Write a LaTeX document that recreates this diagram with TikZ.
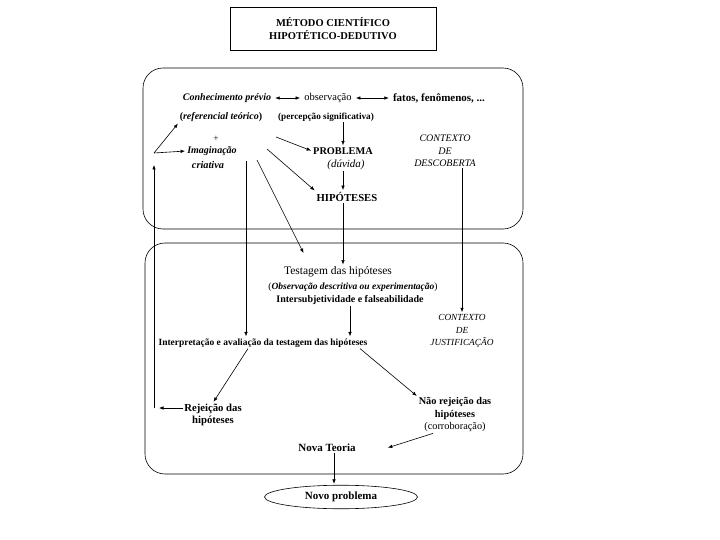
\documentclass[tikz,border=0pt]{standalone}
\usepackage{fontspec}
\setmainfont{Liberation Serif}
\usetikzlibrary{arrows.meta,shapes.geometric}
\newcommand{\fsz}[1]{\fontsize{#1}{12.5}\selectfont}

\begin{document}
\begin{tikzpicture}[x=1pt,y=-1pt,>={Latex[length=4.5pt,width=3.5pt]},
  font=\fsz{9.5},
  lbl/.style={inner sep=1pt,align=center},
  conn/.style={->,line width=0.6pt,shorten >=1pt},
  frame/.style={line width=0.6pt,rounded corners=20pt}]
\useasboundingbox (0,0) rectangle (720,540);
% title
\node[draw,line width=0.6pt,minimum width=206pt,minimum height=43pt,align=center,
  font=\fontsize{10.5}{13}\selectfont\bfseries] (titulo) at (333,28.5)
  {MÉTODO CIENTÍFICO\\HIPOTÉTICO-DEDUTIVO};
% the two contexts
\draw[frame] (143,68) rectangle (523,229);
\draw[frame] (145,243) rectangle (523,474);
% upper part
\node[lbl,font=\fsz{10}\bfseries\itshape] (conh) at (227,98) {Conhecimento prévio};
\node[lbl,font=\fsz{10.5}] (obs) at (328,98) {observação};
\node[lbl,font=\fsz{11}\bfseries] (fatos) at (439,98) {fatos, fenômenos, ...};
\node[lbl,font=\bfseries] (refer) at (221,117) {(\textit{referencial teórico})};
\node[lbl,font=\fsz{9.2}\bfseries] (perc) at (326,117) {(percepção significativa)};
\node[lbl] (plus) at (216,139) {+};
\node[lbl,font=\bfseries\itshape] (imag) at (212,151) {Imaginação};
\node[lbl,font=\fsz{10.3}\bfseries\itshape] (criat) at (208,165) {criativa};
\node[lbl,font=\fsz{10.3}\bfseries] (prob) at (343,151) {PROBLEMA};
\node[lbl,font=\fsz{11}\itshape] (duv) at (346,165) {(dúvida)};
\node[lbl,font=\fsz{10}\itshape] (descob) at (445,151) {CONTEXTO\\DE\\DESCOBERTA};
\node[lbl,font=\fsz{10.7}\bfseries] (hip) at (347,197) {HIPÓTESES};
% lower part
\node[lbl,font=\fsz{11.5}] (testag) at (338,272) {Testagem das hipóteses};
\node[lbl] (obsdesc) at (353,287) {(\textbf{\textit{Observação descritiva ou experimentação}})};
\node[lbl,font=\fsz{10}\bfseries] (inters) at (350,300) {Intersubjetividade e falseabilidade};
\node[lbl,font=\fsz{9.3}\itshape] (justif) at (462,331) {CONTEXTO\\DE\\JUSTIFICAÇÃO};
\node[lbl,font=\fsz{9.5}\bfseries] (interp) at (263,343) {Interpretação e avaliação da testagem das hipóteses};
\node[lbl,font=\fsz{10.7}\bfseries] (rejei) at (213,415) {Rejeição das\\hipóteses};
\node[lbl,font=\fsz{10.3}] (naorej) at (455,415) {\textbf{Não rejeição das}\\\textbf{hipóteses}\\(corroboração)};
\node[lbl,font=\fsz{11}\bfseries] (nova) at (327,448) {Nova Teoria};
\node[draw,ellipse,line width=0.6pt,minimum width=153pt,minimum height=22pt,font=\fsz{11}\bfseries]
  (novoprob) at (341,497) {Novo problema};
% helper points
\coordinate (canto) at (154,153);
\coordinate (volta) at (154,408);
\coordinate (i1) at (276,137);
\coordinate (i2) at (267,149);
\coordinate (i3) at (257,160);
\coordinate (i4) at (246,161);
\coordinate (t1) at (304,254);
% connectors
\draw[conn,<->,shorten <=3pt,shorten >=3pt] (conh) -- (obs);
\draw[conn,<->,shorten <=3pt,shorten >=3pt] (obs) -- (fatos);
\draw[conn] (prob.north |- perc.south) -- (prob.north);
\draw[conn] (canto) -- (refer.south west);
\draw[conn] (canto) -- (imag.west);
\draw[conn] (i1) -- (prob.west);
\draw[conn] (i2) -- (hip.north west);
\draw[conn] (i3) -- (t1);
\draw[conn] (i4) -- (i4 |- interp.north);
\draw[conn] (prob.south |- duv.south) -- (prob.south |- hip.north);
\draw[conn] (prob.south |- hip.south) -- (prob.south |- testag.north);
\draw[conn] (justif.north |- descob.south) -- (justif.north);
\draw[conn] (inters.south) -- (inters.south |- interp.north);
\draw[conn] ([xshift=-15pt]interp.south) -- (rejei.north);
\draw[conn] ([xshift=97pt]interp.south) -- (naorej.north west);
\draw[conn,shorten >=5pt] (rejei.west |- volta) -- (volta);
\draw[conn,shorten >=12pt] (volta) -- (canto);
\draw[conn] ([xshift=-22pt]naorej.south) -- ([xshift=30pt]nova.east);
\draw[conn] ([xshift=7pt]nova.south) -- ([xshift=7pt]nova.south |- novoprob.north);
\end{tikzpicture}
\end{document}
